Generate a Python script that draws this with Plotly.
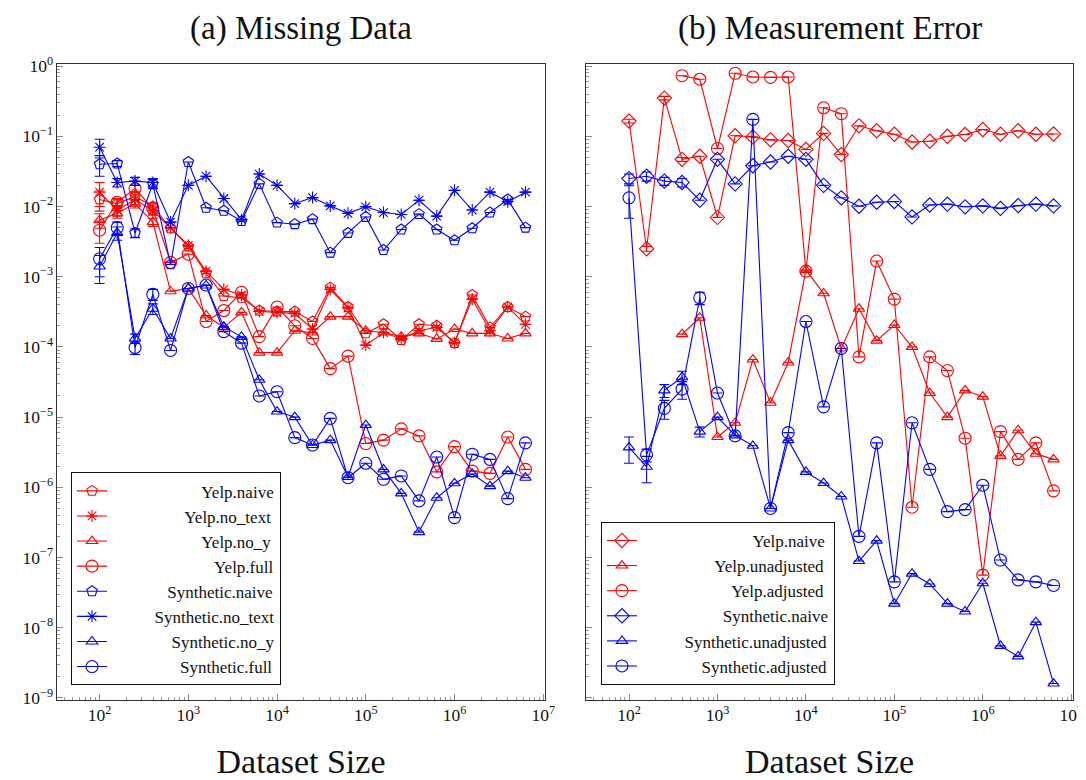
import plotly.graph_objects as go

sizes = [100, 158, 251, 398, 631, 1000, 1585, 2512, 3981, 6310, 10000, 15849,
         25119, 39811, 63096, 100000, 158489, 251189, 398107, 630957, 1000000,
         1584893, 2511886, 3981072, 6309573]

# ---------- (a) Missing Data ----------
yelp_naive = [0.0126, 0.011, 0.014, 0.010, 0.0049, 0.0027, 0.00112, 0.00053, 0.0005,
              0.00033, 0.00032, 0.00032, 0.00023, 0.0007, 0.00037, 0.000156, 0.00021,
              0.000125, 0.00021, 0.0002, 0.000113, 0.00055, 0.00019, 0.00037, 0.00027]
yelp_no_text = [0.016, 0.0088, 0.0126, 0.0087, 0.005, 0.0028, 0.0012, 0.00066, 0.00055,
                0.00032, 0.00031, 0.0003, 0.00018, 0.00066, 0.00036, 0.000106, 0.00016,
                0.00013, 0.00017, 0.00019, 0.000115, 0.00048, 0.00017, 0.00037, 0.00021]
yelp_no_y = [0.0064, 0.0080, 0.011, 0.0060, 0.00062, 0.00068, 0.00028, 0.00019, 0.00031,
             8.3e-5, 8.3e-5, 0.00017, 0.00016, 0.00027, 0.00027, 0.00017, 0.00016,
             0.00014, 0.000156, 0.00013, 0.00018, 0.000156, 0.000156, 0.000132, 0.000156]
yelp_full = [0.0046, 0.0115, 0.018, 0.0093, 0.0016, 0.0021, 0.00023, 0.00033, 0.0006,
             0.00014, 0.00037, 0.0002, 0.000132, 4.9e-5, 7.4e-5, 4.2e-6, 4.7e-6,
             6.8e-6, 5.4e-6, 1.66e-6, 3.8e-6, 1.7e-6, 1.58e-6, 5.2e-6, 1.8e-6]
syn_naive = [0.040, 0.041, 0.0042, 0.021, 0.0015, 0.043, 0.0096, 0.0087, 0.0062,
             0.021, 0.0059, 0.0056, 0.0066, 0.0022, 0.0042, 0.0071, 0.0024, 0.0047,
             0.0078, 0.0047, 0.0033, 0.0049, 0.0082, 0.0126, 0.0050]
syn_no_text = [0.07, 0.022, 0.023, 0.022, 0.006, 0.02, 0.027, 0.013, 0.0065, 0.029,
               0.02, 0.011, 0.0134, 0.0102, 0.0080, 0.0099, 0.0082, 0.0077, 0.0123,
               0.0073, 0.017, 0.0089, 0.016, 0.0117, 0.016]
syn_no_y = [0.0014, 0.0042, 0.000132, 0.00035, 0.000132, 0.00068, 0.00075, 0.000194,
            0.000139, 3.4e-5, 1.2e-5, 1.0e-5, 4.0e-6, 4.7e-6, 1.4e-6, 7.7e-6, 1.8e-6,
            8.2e-7, 2.3e-7, 7.1e-7, 1.14e-6, 1.55e-6, 1.04e-6, 1.7e-6, 1.37e-6]
syn_full = [0.0018, 0.0050, 9.8e-5, 0.00056, 8.9e-5, 0.00068, 0.00076, 0.000165,
            0.000113, 2.0e-5, 2.3e-5, 5.1e-6, 4.0e-6, 9.6e-6, 1.37e-6, 2.2e-6, 1.3e-6,
            1.45e-6, 6.4e-7, 2.7e-6, 3.7e-7, 2.96e-6, 2.5e-6, 6.9e-7, 4.3e-6]

yelp_naive_err = [0.004, 0.0015, 0.002, 0.0012] + [0] * 21
yelp_no_text_err = [0.006, 0.0015, 0.002, 0.0012] + [0] * 21
yelp_no_y_err = [0.0015, 0.0012, 0.0015, 0.0008] + [0] * 21
yelp_full_err = [0.0016, 0.0015, 0.002, 0.0012] + [0] * 21
syn_naive_err = [0.013, 0.004, 0.0006, 0.003] + [0] * 21
syn_no_text_err = [0.021, 0.003, 0.003, 0.003] + [0] * 21
syn_no_y_err = [0.0006, 0.0009, 2e-5, 6e-5] + [0] * 21
syn_full_err = [0.0008, 0.0010, 2e-5, 0.0001] + [0] * 21

# ---------- (b) Measurement Error ----------
b_yelp_naive = [0.165, 0.0025, 0.35, 0.047, 0.052, 0.0070, 0.102, 0.098, 0.089, 0.087,
                0.065, 0.11, 0.055, 0.141, 0.12, 0.107, 0.083, 0.085, 0.10, 0.106,
                0.125, 0.107, 0.12, 0.107, 0.108]
b_yelp_unadj = [None, None, None, 0.000152, 0.00026, 5.2e-6, 8.3e-6, 6.6e-5, 1.6e-5,
                6.0e-5, 0.00124, 0.00058, 9.5e-5, 0.00035, 0.000123, 0.000205, 0.0001,
                2.2e-5, 1.0e-5, 2.4e-5, 1.96e-5, 2.8e-6, 6.5e-6, 3.0e-6, 2.5e-6]
b_yelp_adj = [None, None, None, 0.73, 0.65, 0.067, 0.79, 0.70, 0.69, 0.70, 0.0012,
              0.255, 0.21, 7.2e-5, 0.00167, 0.00048, 5.2e-7, 7.2e-5, 4.6e-5, 5.0e-6,
              5.6e-8, 6.2e-6, 2.5e-6, 4.3e-6, 8.9e-7]
b_syn_naive = [0.025, 0.027, 0.023, 0.022, 0.0123, 0.047, 0.021, 0.038, 0.043, 0.052,
               0.047, 0.020, 0.0133, 0.0101, 0.0115, 0.0118, 0.0071, 0.0105, 0.0108,
               0.0099, 0.0102, 0.0094, 0.0103, 0.0108, 0.0102]
b_syn_unadj = [3.7e-6, 1.96e-6, 2.4e-5, 3.7e-5, 6.2e-6, 1.0e-5, 5.5e-6, 3.9e-6, 5.0e-7,
               4.7e-6, 1.66e-6, 1.15e-6, 7.4e-7, 8.9e-8, 1.74e-7, 2.2e-8, 5.9e-8,
               4.2e-8, 2.2e-8, 1.7e-8, 4.3e-8, 5.5e-9, 3.9e-9, 1.2e-8, 1.6e-9]
b_syn_adj = [0.0133, 2.9e-6, 1.33e-5, 2.5e-5, 0.0005, 2.2e-5, 5.4e-6, 0.174, 5.0e-7,
             6.0e-6, 0.00023, 1.4e-5, 9.5e-5, 2.0e-7, 4.3e-6, 4.5e-8, 8.3e-6, 1.8e-6,
             4.5e-7, 4.8e-7, 1.07e-6, 9.2e-8, 4.8e-8, 4.5e-8, 4.0e-8]

b_yelp_naive_err = [0.01, 0.0002, 0.02, 0.003] + [0] * 21
b_yelp_unadj_err = [0] * 25
b_yelp_adj_err = [0] * 25
b_syn_naive_err = [0.004, 0.004, 0.003, 0.003] + [0] * 21
b_syn_unadj_err = [1.5e-6, 0.8e-6, 0.5e-5, 0.8e-5, 1e-6] + [0] * 20
b_syn_adj_err = [0.0065, 0.6e-6, 0.4e-5, 0.7e-5, 0.0001] + [0] * 20

RED = "#ff0000"
BLUE = "#0000ff"
FONT = "Liberation Serif"
NBSP = "\u00a0"

# leading no-break spaces so the legend texts line up on the right, as in the reference
legend_pad = {
    "Yelp.naive": 21, "Yelp.no_text": 17, "Yelp.no_y": 21, "Yelp.full": 24,
    "Synthetic.naive": 13, "Synthetic.no_text": 10, "Synthetic.no_y": 14,
    "Synthetic.full": 16,
}
legend2_pad = {
    "Yelp.naive": 26, "Yelp.unadjusted": 17, "Yelp.adjusted": 21,
    "Synthetic.naive": 19, "Synthetic.unadjusted": 10, "Synthetic.adjusted": 14,
}

fig = go.Figure()


def add(y, err, name, color, symbol, xa, ya, legend, size=11):
    pads = legend_pad if legend == "legend" else legend2_pad
    fig.add_trace(go.Scatter(
        x=sizes, y=y, name=NBSP * pads[name] + name, mode="lines+markers",
        line=dict(color=color, width=1.1),
        marker=dict(symbol=symbol, size=size, color=color,
                    line=dict(color=color, width=1.1)),
        error_y=dict(type="data", array=err, visible=True, color=color,
                     thickness=1.1, width=5),
        connectgaps=False,
        xaxis=xa, yaxis=ya, legend=legend))


add(yelp_naive, yelp_naive_err, "Yelp.naive", RED, "pentagon-open", "x", "y", "legend")
add(yelp_no_text, yelp_no_text_err, "Yelp.no_text", RED, "asterisk-open", "x", "y", "legend", 10)
add(yelp_no_y, yelp_no_y_err, "Yelp.no_y", RED, "triangle-up-open", "x", "y", "legend", 10)
add(yelp_full, yelp_full_err, "Yelp.full", RED, "circle-open", "x", "y", "legend", 12)
add(syn_naive, syn_naive_err, "Synthetic.naive", BLUE, "pentagon-open", "x", "y", "legend")
add(syn_no_text, syn_no_text_err, "Synthetic.no_text", BLUE, "asterisk-open", "x", "y", "legend", 10)
add(syn_no_y, syn_no_y_err, "Synthetic.no_y", BLUE, "triangle-up-open", "x", "y", "legend", 10)
add(syn_full, syn_full_err, "Synthetic.full", BLUE, "circle-open", "x", "y", "legend", 12)

add(b_yelp_naive, b_yelp_naive_err, "Yelp.naive", RED, "diamond-open", "x2", "y2", "legend2")
add(b_yelp_unadj, b_yelp_unadj_err, "Yelp.unadjusted", RED, "triangle-up-open", "x2", "y2", "legend2", 10)
add(b_yelp_adj, b_yelp_adj_err, "Yelp.adjusted", RED, "circle-open", "x2", "y2", "legend2", 12)
add(b_syn_naive, b_syn_naive_err, "Synthetic.naive", BLUE, "diamond-open", "x2", "y2", "legend2")
add(b_syn_unadj, b_syn_unadj_err, "Synthetic.unadjusted", BLUE, "triangle-up-open", "x2", "y2", "legend2", 10)
add(b_syn_adj, b_syn_adj_err, "Synthetic.adjusted", BLUE, "circle-open", "x2", "y2", "legend2", 12)

axis_common = dict(
    type="log", showgrid=False, zeroline=False, automargin=False,
    showline=True, linecolor="#333333", linewidth=1.3, mirror=True,
    ticks="inside", ticklen=6, tickcolor="#888888", tickwidth=1,
    minor=dict(ticks="inside", ticklen=3, tickcolor="#999999", showgrid=False),
    exponentformat="power", dtick=1, ticklabeloverflow="allow",
    labelalias={"1": "10<sup>0</sup>"},
    tickfont=dict(family=FONT, size=14, color="#111111"),
)

axis_title_font = dict(family=FONT, size=34, color="#111111")
panel_title_font = dict(family=FONT, size=33, color="#111111")
legend_font = dict(family=FONT, size=17, color="#111111")

# the page places the figure 8px from the top-left corner of the window
fig.update_layout(
    width=1078, height=772,
    paper_bgcolor="white", plot_bgcolor="white",
    margin=dict(l=49, r=13, t=56, b=80),
    font=dict(family=FONT, color="#111111"),
    xaxis=dict(domain=[0, 0.4803], range=[1.52, 7.02], anchor="y",
               title=dict(text="Dataset Size", font=axis_title_font, standoff=24),
               **axis_common),
    yaxis=dict(domain=[0, 1], range=[-9.03, 0.03], anchor="x", **axis_common),
    xaxis2=dict(domain=[0.5207, 1], range=[1.514, 7.02], anchor="y2",
                title=dict(text="Dataset Size", font=axis_title_font, standoff=24),
                **axis_common),
    yaxis2=dict(domain=[0, 1], range=[-9.03, 0.03], anchor="x2",
                showticklabels=False, **axis_common),
    legend=dict(x=0.0138, y=0.358, xanchor="left", yanchor="top",
                bgcolor="white", bordercolor="#111111", borderwidth=1,
                font=legend_font, tracegroupgap=0),
    legend2=dict(x=0.5354, y=0.280, xanchor="left", yanchor="top",
                 bgcolor="white", bordercolor="#111111", borderwidth=1,
                 font=legend_font, tracegroupgap=0),
    annotations=[
        dict(text="(a) Missing Data", xref="paper", yref="paper",
             x=0.2402, y=1, yshift=36, xanchor="center", yanchor="middle",
             showarrow=False, font=panel_title_font),
        dict(text="(b) Measurement Error", xref="paper", yref="paper",
             x=0.7604, y=1, yshift=36, xanchor="center", yanchor="middle",
             showarrow=False, font=panel_title_font),
    ],
)

fig.write_html("out.html", default_width="1078px", default_height="772px")
